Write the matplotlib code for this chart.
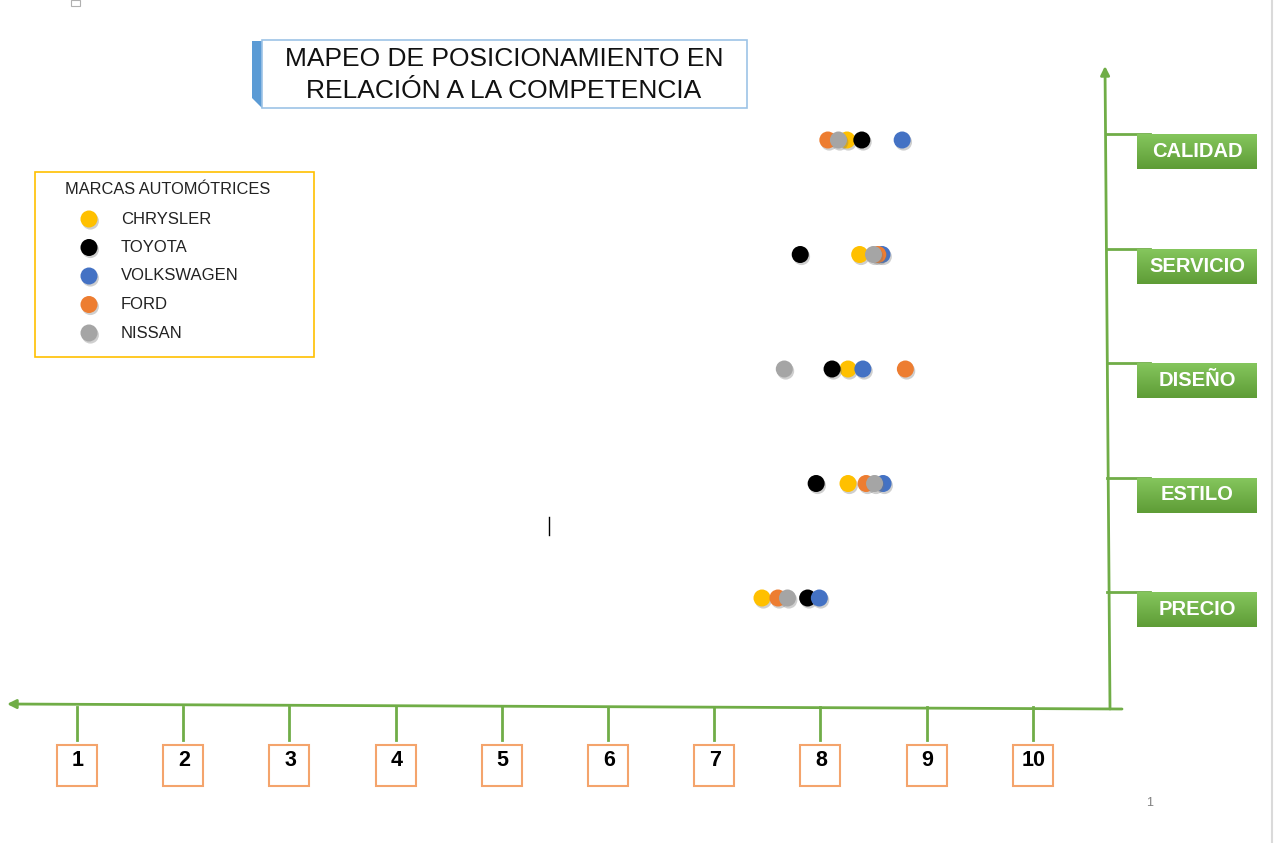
import matplotlib
matplotlib.use('Agg')
import matplotlib.pyplot as plt
import matplotlib.patheffects as pe
from matplotlib.patches import Rectangle, Polygon
from matplotlib.colors import LinearSegmentedColormap
import numpy as np

plt.rcParams['font.family'] = ['Liberation Sans', 'DejaVu Sans']

# ---------------- data ----------------
title_lines = ["MAPEO DE POSICIONAMIENTO EN", "RELACIÓN A LA COMPETENCIA"]
legend_title = "MARCAS AUTOMÓTRICES"
categories = ["PRECIO", "ESTILO", "DISEÑO", "SERVICIO", "CALIDAD"]
brands = ["CHRYSLER", "TOYOTA", "VOLKSWAGEN", "FORD", "NISSAN"]
brand_colors = ["#FFC000", "#000000", "#4472C4", "#ED7D31", "#A5A5A5"]
# values per category: PRECIO, ESTILO, DISEÑO, SERVICIO, CALIDAD
chrysler = [7.45, 8.26, 8.26, 8.37, 8.25]
toyota = [7.88, 7.96, 8.11, 7.81, 8.39]
volkswagen = [7.99, 8.59, 8.40, 8.58, 8.77]
ford = [7.60, 8.43, 8.80, 8.54, 8.07]
nissan = [7.69, 8.51, 7.66, 8.50, 8.17]
series = [chrysler, toyota, volkswagen, ford, nissan]
scale_ticks = [1, 2, 3, 4, 5, 6, 7, 8, 9, 10]

# ---------------- figure ----------------
W, H = 1278, 843
GREEN = "#70AD47"
fig = plt.figure(figsize=(W / 100, H / 100), dpi=100)
fig.patch.set_facecolor("white")

deco = fig.add_axes([0, 0, 1, 1])
deco.set_xlim(0, W)
deco.set_ylim(H, 0)
deco.axis('off')

ax = fig.add_axes([0, 0, 1, 1], zorder=3)
ax.patch.set_alpha(0)
ax.set_xlim(1 - 77 / 106.2, 1 + (W - 77) / 106.2)
ax.set_ylim((598 - H) / 114.5, 598 / 114.5)
ax.axis('off')


def to_px(x, y):
    disp = ax.transData.transform((x, y))
    return deco.transData.inverted().transform(disp)


# page edge / artifacts
deco.plot([1272, 1272], [0, H], color="#DADADA", lw=1.5)
deco.add_patch(Rectangle((71, 0), 9, 6, fill=False, ec="#B0B0B0", lw=0.8))
deco.plot([549, 549], [517, 535], color="black", lw=1)
deco.text(1150, 803, "1", color="#808080", fontsize=9, ha="center", va="center")

# title box
deco.add_patch(Polygon([(252, 41), (262, 41), (262, 108), (252, 98)],
                       closed=True, fc="#5B9BD5", ec="none"))
deco.add_patch(Rectangle((262, 40), 485, 68, fc="white", ec="#9DC3E6", lw=1.2))
deco.text(504, 59, title_lines[0], ha="center", va="center", fontsize=19, color="#111111")
deco.text(504, 91, title_lines[1], ha="center", va="center", fontsize=19, color="#111111")

# legend box
deco.add_patch(Rectangle((35, 172), 279, 185, fill=False, ec="#FFC000", lw=1.2))
deco.text(65, 189, legend_title, ha="left", va="center", fontsize=11.8, color="#222222")
shadow = [pe.SimplePatchShadow(offset=(1, -1.5), shadow_rgbFace="#777777", alpha=0.35), pe.Normal()]
for k, (b, c) in enumerate(zip(brands, brand_colors)):
    yy = 219 + k * 28.5
    deco.scatter([89], [yy], s=150, color=c, zorder=5, path_effects=shadow, linewidths=0)
    deco.text(121, yy, b, ha="left", va="center", fontsize=12, color="#222222")

# horizontal axis (arrow to left)
deco.annotate("", xy=(7, 704), xytext=(1122, 709),
              arrowprops=dict(arrowstyle="-|>", color=GREEN, lw=2, mutation_scale=13,
                              shrinkA=0, shrinkB=0))
# vertical axis (arrow to top)
deco.annotate("", xy=(1105, 66), xytext=(1110, 709),
              arrowprops=dict(arrowstyle="-|>", color=GREEN, lw=2, mutation_scale=13,
                              shrinkA=0, shrinkB=0))

# scale ticks and number boxes
for t in scale_ticks:
    px, _ = to_px(t, 0)
    deco.plot([px, px], [707, 740], color=GREEN, lw=2)
    deco.add_patch(Rectangle((px - 20, 745), 40, 41, fill=False, ec="#F4A46C", lw=1.5))
    deco.text(px + 1, 761, str(t), ha="center", va="center", fontsize=15.5,
              fontweight="bold", color="black")

# category labels
cmap = LinearSegmentedColormap.from_list("g", ["#84C55C", "#5E9C36"])
nstrip = 35
for i, cat in enumerate(categories):
    _, py = to_px(0, i)
    top = py - 6
    deco.plot([1107, 1150], [top, top], color=GREEN, lw=2, zorder=1)
    for s in range(nstrip):
        deco.add_patch(Rectangle((1137, top + s), 120, 1.05, fc=cmap(s / (nstrip - 1)),
                                 ec="none", zorder=2))
    deco.text(1197, top + 17.5, cat, ha="center", va="center", fontsize=14.5,
              fontweight="bold", color="white", zorder=4)

# data points
ypos = np.arange(len(categories))
for vals, b, c in zip(series, brands, brand_colors):
    ax.scatter(vals, ypos, s=150, color=c, linewidths=0, path_effects=shadow, label=b)

fig.savefig("out.png", dpi=100, facecolor="white")
